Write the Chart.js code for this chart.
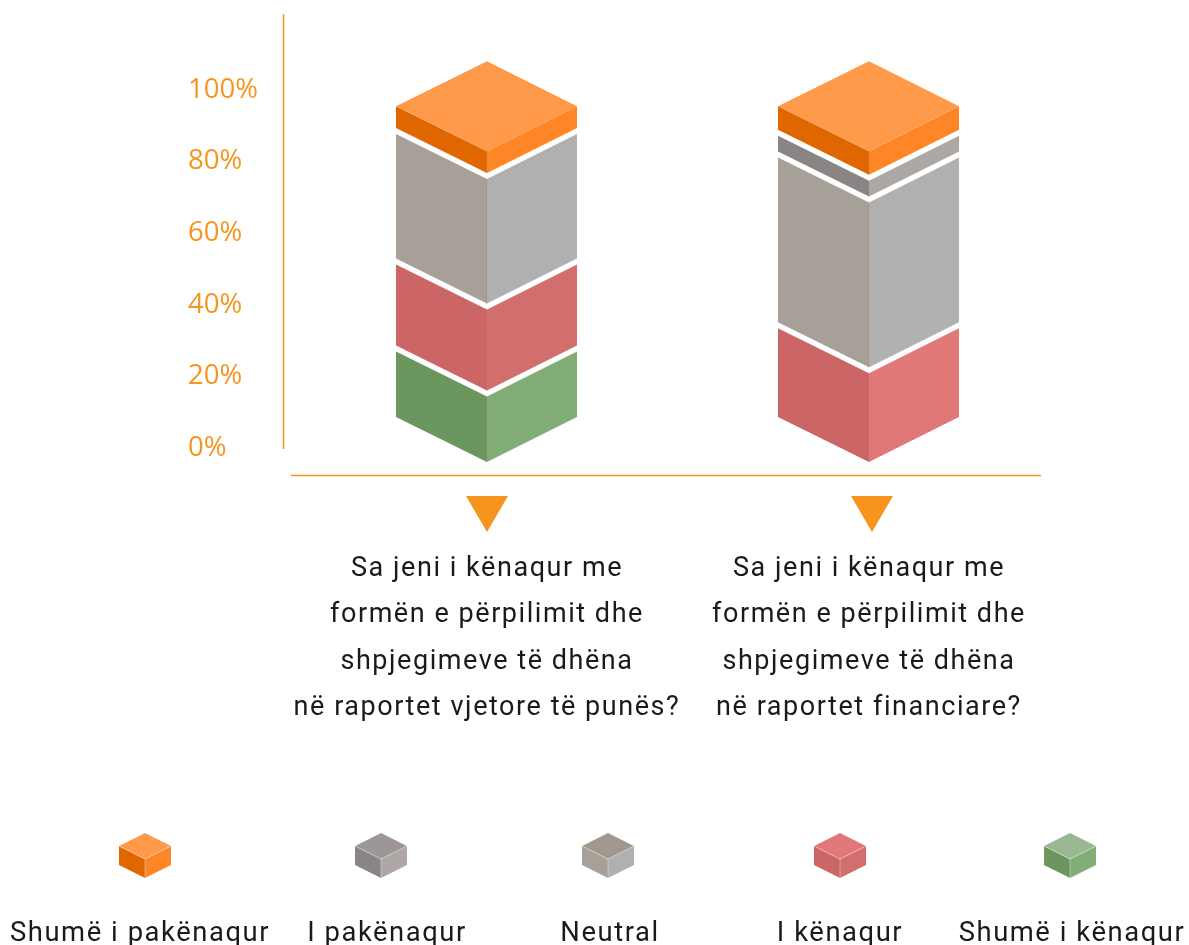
<!DOCTYPE html>
<html><head><meta charset="utf-8">
<style>html,body{margin:0;padding:0;background:#fff}canvas{display:block}</style>
<script src="https://cdn.jsdelivr.net/npm/chart.js@4"></script>
</head><body>
<canvas id="c" width="1189" height="945"></canvas>
<script>
const categories = [
  ['Sa jeni i kënaqur me','formën e përpilimit dhe','shpjegimeve të dhëna','në raportet vjetore të punës?'],
  ['Sa jeni i kënaqur me','formën e përpilimit dhe','shpjegimeve të dhëna','në raportet financiare?']
];
const yTickValues = [0,20,40,60,80,100];
const veryUnsatisfied = [8, 8.5];
const unsatisfied = [0, 7];
const neutral = [42, 55];
const satisfied = [28, 29.5];
const verySatisfied = [22, 0];
const seriesNames = ['Shumë i pakënaqur','I pakënaqur','Neutral','I kënaqur','Shumë i kënaqur'];

const ORANGE = '#F7941D';
const FONT = 'Roboto';
const TEXT = '#1a1a1a';
const SPACING = '1.55px';
const legendCenters = [145,381,608,840,1070];
const legendTextCenters = [140,387,610,840,1072];
const faces = {
  veryUnsatisfied:{top:'#FF9A4A',left:'#E06600',right:['#FF8626','#FF8626']},
  unsatisfied:{top:'#9E9696',left:'#8B8484',right:['#ADA7A6','#ADA7A6']},
  neutral:{top:'#A1978C',left:'#A6A098',right:['#B0B0B0','#B0B0B0']},
  satisfied:{top:'#E07878',left:'#CC6666',right:['#D26E6E','#E07878']},
  verySatisfied:{top:'#9AB794',left:'#6B975F',right:['#83AD77','#83AD77']}
};
const LEFT_W = 91, RIGHT_W = 90, DEPTH = 45, GAP = 3;

function poly(ctx, pts, fill){
  ctx.beginPath();
  pts.forEach((p,i)=> i?ctx.lineTo(p[0],p[1]):ctx.moveTo(p[0],p[1]));
  ctx.closePath(); ctx.fillStyle=fill; ctx.fill();
}

class IsoBar extends Chart.BarElement {
  draw(ctx){
    const {x,y,base} = this.getProps(['x','y','base']);
    if (Math.abs(base-y) < 0.5) return;
    const o = this.iso;
    const yTop = o.isTop ? y : y + GAP;
    const yBase = o.isBottom ? base : base - GAP;
    poly(ctx,[[x-LEFT_W,yTop-DEPTH],[x,yTop],[x,yBase],[x-LEFT_W,yBase-DEPTH]],o.left);
    poly(ctx,[[x+RIGHT_W,yTop-DEPTH],[x,yTop],[x,yBase],[x+RIGHT_W,yBase-DEPTH]],o.right);
    ctx.fillStyle='rgba(170,130,105,0.4)';
    ctx.fillRect(x-1,yTop,1,yBase-yTop);
    if (o.isTop) poly(ctx,[[x,yTop-2*DEPTH],[x+RIGHT_W,yTop-DEPTH],[x,yTop],[x-LEFT_W,yTop-DEPTH]],o.top);
  }
}
IsoBar.id='isoBar';
Chart.register(IsoBar);

class IsoBarController extends Chart.BarController {
  updateElements(bars,start,count,mode){
    super.updateElements(bars,start,count,mode);
    const ds = this.getDataset();
    const all = this.chart.data.datasets;
    const di = this.index;
    for (let i=start;i<start+count;i++){
      let isTop = true, isBottom = true;
      all.forEach((d,k)=>{ if(d.data[i]>0){ if(k>di) isTop=false; if(k<di) isBottom=false; } });
      bars[i].iso = {isTop,isBottom,top:ds.faceTop,left:ds.faceLeft,right:ds.faceRight[i]};
    }
  }
}
IsoBarController.id='isoBar';
IsoBarController.defaults = Object.assign({},Chart.BarController.defaults,{dataElementType:'isoBar'});
IsoBarController.overrides = Chart.BarController.overrides;
Chart.register(IsoBarController);

const decor = {
  id:'decor',
  beforeDraw(chart){
    const x = chart.scales.x;
    if(!x.__w){ x.__w=true; const orig=x.drawLabels.bind(x);
      x.drawLabels=function(a){ const c=chart.ctx; c.save(); c.letterSpacing=SPACING; orig(a); c.restore(); }; }
  },
  afterDraw(chart){
    const c = chart.ctx, xs = chart.scales.x;
    c.save();
    c.fillStyle=ORANGE;
    c.fillRect(282.75,14,1.5,435);
    c.fillRect(291,474.75,750,1.5);
    categories.forEach((_,i)=>{
      const px = xs.getPixelForTick(i);
      const ax = i===0 ? px : px+3;
      poly(c,[[ax-21,496],[ax+21,496],[ax,532]],ORANGE);
    });
    const order = [faces.veryUnsatisfied,faces.unsatisfied,faces.neutral,faces.satisfied,faces.verySatisfied];
    order.forEach((f,i)=>{
      const x0 = legendCenters[i], w=26;
      poly(c,[[x0-w,846],[x0,859],[x0,878],[x0-w,865]],f.left);
      poly(c,[[x0+w,846],[x0,859],[x0,878],[x0+w,865]],f.right[0]);
      poly(c,[[x0,833],[x0+w,846],[x0,859],[x0-w,846]],f.top);
      c.strokeStyle='rgba(255,255,255,0.35)'; c.lineWidth=1;
      c.beginPath(); c.moveTo(x0-w,846); c.lineTo(x0,859); c.lineTo(x0+w,846); c.moveTo(x0,859); c.lineTo(x0,878); c.stroke();
      c.font='27.4px '+FONT; c.fillStyle=TEXT; c.textAlign='center'; c.textBaseline='alphabetic';
      c.letterSpacing=SPACING;
      c.fillText(seriesNames[i],legendTextCenters[i],941);
      c.letterSpacing='0px';
    });
    c.restore();
  }
};

const mk=(label,data,f)=>({label,data,type:'isoBar',yAxisID:'y2',xAxisID:'x',stack:'s',clip:false,
  backgroundColor:f.left,faceTop:f.top,faceLeft:f.left,faceRight:f.right,barThickness:181});

new Chart(document.getElementById('c'),{
  type:'isoBar',
  data:{labels:categories,datasets:[
    mk(seriesNames[4],verySatisfied,faces.verySatisfied),
    mk(seriesNames[3],satisfied,faces.satisfied),
    mk(seriesNames[2],neutral,faces.neutral),
    mk(seriesNames[1],unsatisfied,faces.unsatisfied),
    mk(seriesNames[0],veryUnsatisfied,faces.veryUnsatisfied)
  ]},
  options:{
    responsive:false,animation:false,
    layout:{padding:{left:188,top:14,right:129,bottom:0}},
    plugins:{legend:{display:false},tooltip:{enabled:false}},
    scales:{
      x:{type:'category',stacked:true,offset:true,grid:{display:false,drawTicks:false},border:{display:false},
        afterFit(s){s.height=496;},
        ticks:{maxRotation:0,minRotation:0,autoSkip:false,padding:97,color:TEXT,font:{family:FONT,size:27,lineHeight:1.715}}},
      y:{type:'linear',position:'left',min:-0.28,max:120.56,grid:{display:false,drawTicks:false},border:{display:false},
        afterBuildTicks(s){s.ticks=yTickValues.map(v=>({value:v}));},
        afterFit(s){s.width=108;},
        ticks:{crossAlign:'far',autoSkip:false,padding:0,color:ORANGE,font:{family:'Open Sans',size:27.5,weight:'400'},callback:v=>v+'%'}},
      y2:{type:'linear',display:false,stacked:true,min:4.16,max:143.36}
    }
  },
  plugins:[decor]
});
</script>
</body></html>
